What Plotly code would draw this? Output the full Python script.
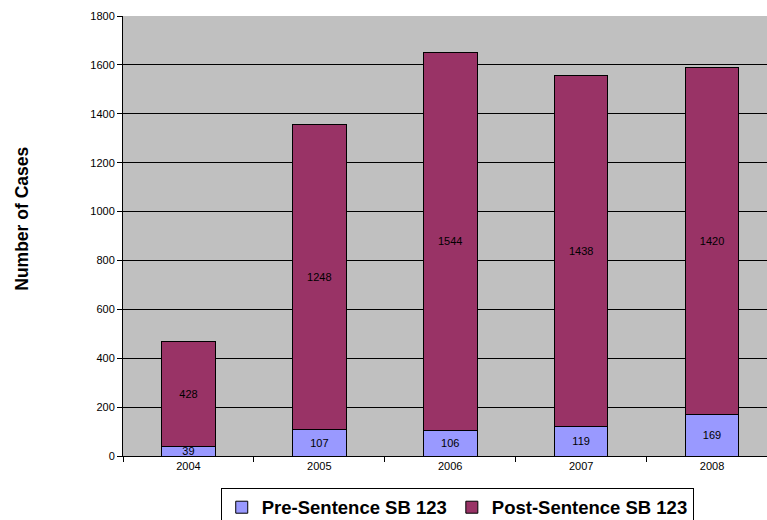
import plotly.graph_objects as go

years = ["2004", "2005", "2006", "2007", "2008"]
pre_sentence = [39, 107, 106, 119, 169]
post_sentence = [428, 1248, 1544, 1438, 1420]

fig = go.Figure()

fig.add_trace(go.Bar(
    x=years, y=pre_sentence,
    name="Pre-Sentence SB 123",
    marker=dict(color="#9999FF", line=dict(color="black", width=1)),
    text=pre_sentence, textposition="inside", insidetextanchor="middle",
    constraintext="none",
    textfont=dict(color="black", size=11, family="Liberation Sans"),
    width=0.41,
))

fig.add_trace(go.Bar(
    x=years, y=post_sentence,
    name="Post-Sentence SB 123",
    marker=dict(color="#993366", line=dict(color="black", width=1)),
    text=post_sentence, textposition="inside", insidetextanchor="middle",
    constraintext="none",
    textfont=dict(color="black", size=11, family="Liberation Sans"),
    width=0.41,
))

fig.update_layout(
    barmode="stack",
    width=767, height=520,
    margin=dict(l=123, r=0, t=16, b=64, autoexpand=False),
    plot_bgcolor="#C0C0C0",
    paper_bgcolor="white",
    font=dict(family="Liberation Sans", size=11, color="black"),
    legend=dict(
        orientation="h",
        x=0.519, xanchor="center",
        y=-0.072, yanchor="top",
        bordercolor="black", borderwidth=1,
        font=dict(size=18.5, weight="bold"),
        traceorder="normal",
        itemwidth=30,
    ),
    annotations=[dict(
        text="<b>Number of Cases</b>",
        xref="paper", yref="paper",
        x=-0.157, y=0.539, xanchor="center", yanchor="middle",
        textangle=-90, showarrow=False,
        font=dict(size=17.5, family="Liberation Sans"),
    )],
)

fig.update_xaxes(
    type="category",
    range=[-0.5, 4.42],
    automargin=False,
    showline=True, linecolor="black", linewidth=1,
    ticks="outside", tickson="boundaries", ticklen=5, tickcolor="black",
    showgrid=False,
    tickfont=dict(size=11),
)

fig.update_yaxes(
    range=[0, 1800], dtick=200,
    automargin=False,
    showline=True, linecolor="black", linewidth=1,
    ticks="outside", ticklen=5, tickcolor="black",
    showgrid=True, gridcolor="black", gridwidth=1,
    zeroline=False,
    tickfont=dict(size=11),
)

# drop the default page margin so the figure sits at the window's corner
fig.write_html(
    "out.html",
    config={"displayModeBar": False},
    post_script="document.body.style.margin='0';document.body.style.overflow='hidden';",
)
